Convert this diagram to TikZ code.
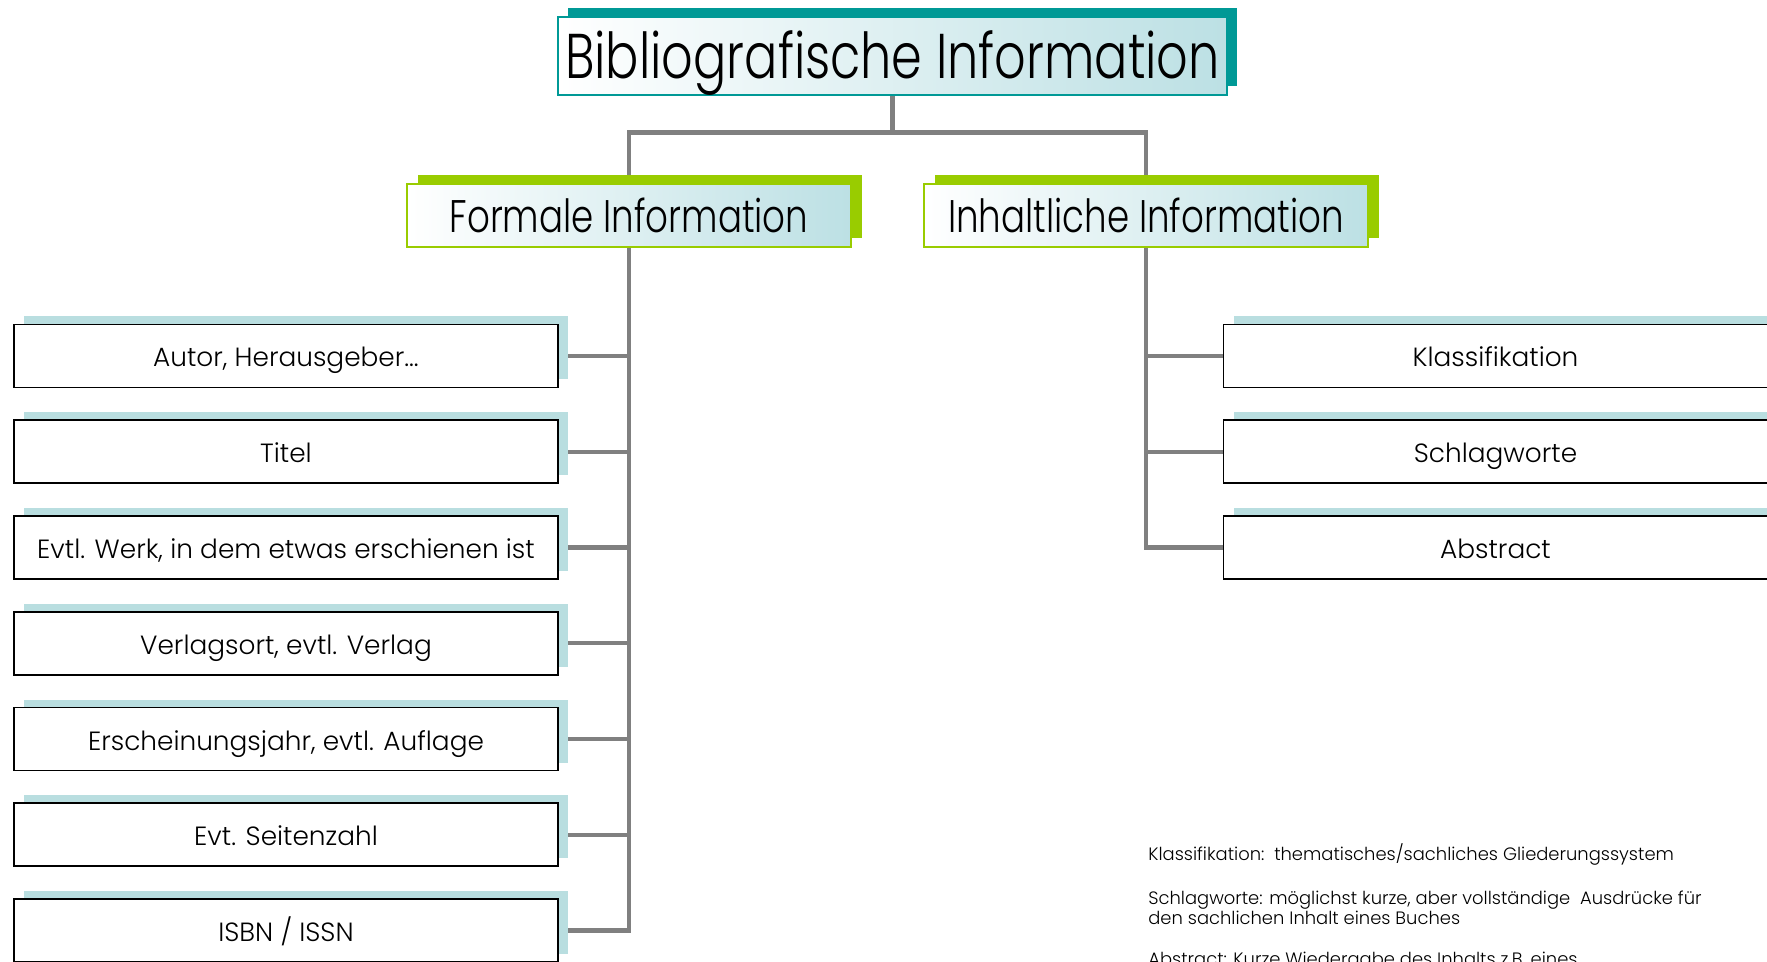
\documentclass[tikz,border=0pt]{standalone}
\usepackage{fontspec}
\IfFontExistsTF{Poppins Light}{%
  \setmainfont{Poppins Light}\newfontfamily\headfont{Poppins Light}[FakeStretch=0.78]}{%
  \setmainfont{Poppins}\newfontfamily\headfont{Poppins}[FakeStretch=0.78]}
\usetikzlibrary{shadows,backgrounds}

\definecolor{titleteal}{RGB}{0,153,150}
\definecolor{catgreen}{RGB}{153,204,0}
\definecolor{leafshade}{RGB}{185,222,224}
\definecolor{gradblue}{RGB}{188,224,228}
\definecolor{linkgray}{RGB}{128,128,128}

\tikzset{
  titlebox/.style={draw=titleteal, line width=0.8pt, left color=white, right color=gradblue,
    minimum width=13.38cm, minimum height=1.56cm, inner sep=0pt,
    text height=1.22cm, text depth=0.30cm,
    general shadow={fill=titleteal, shadow xshift=0.2cm, shadow yshift=0.17cm},
    font=\headfont\fontsize{36}{40}\selectfont},
  catbox/.style={draw=catgreen, line width=0.8pt, left color=white, right color=gradblue,
    minimum width=8.88cm, minimum height=1.26cm, inner sep=0pt,
    text height=0.95cm, text depth=0.27cm,
    general shadow={fill=catgreen, shadow xshift=0.22cm, shadow yshift=0.18cm},
    font=\headfont\fontsize{26}{30}\selectfont},
  leafbox/.style={draw=black, line width=0.9pt, fill=white,
    minimum width=10.88cm, minimum height=1.26cm, inner sep=0pt,
    text height=0.58cm, text depth=0.14cm,
    general shadow={fill=leafshade, shadow xshift=0.2cm, shadow yshift=0.16cm},
    font=\fontsize{15}{18}\selectfont},
  link/.style={draw=linkgray, line width=2.5pt},
  note/.style={anchor=base west, inner sep=0pt, font=\fontsize{10.2}{12}\selectfont}
}

\begin{document}
\begin{tikzpicture}
  \useasboundingbox (0,0) rectangle (35.34,19.22);

  \node[titlebox] (bib) at (17.85,18.10) {Bibliografische Information};

  \node[catbox] (formal) at (12.58,14.91) {Formale Information};
  \node[catbox] (content) at (22.92,14.91) {Inhaltliche Information};

  % formale Angaben
  \foreach \y/\name/\txt in {12.10/autor/{Autor, Herausgeber...},
      10.185/titel/Titel,
      8.27/werk/{Evtl. Werk, in dem etwas erschienen ist},
      6.355/ort/{Verlagsort, evtl. Verlag},
      4.44/jahr/{Erscheinungsjahr, evtl. Auflage},
      2.525/seiten/Evt. Seitenzahl,
      0.61/isbn/{ISBN / ISSN}}
    \node[leafbox] (\name) at (5.72,\y) {\txt};

  % inhaltliche Angaben
  \foreach \y/\name/\txt in {12.10/klass/Klassifikation,
      10.185/schlag/Schlagworte,
      8.27/abstr/Abstract}
    \node[leafbox] (\name) at (29.91,\y) {\txt};

  \begin{scope}[on background layer]
    \draw[link] (bib.south) -- ++(0,-0.74) coordinate (fork);
    \draw[link] (formal.north) |- (fork) -| (content.north);
    \foreach \name in {autor,titel,werk,ort,jahr,seiten,isbn}
      \draw[link] (\name.east) -| (formal.south);
    \foreach \name in {klass,schlag,abstr}
      \draw[link] (\name.west) -| (content.south);
  \end{scope}

  % Erlaeuterungen
  \node[note] (klassnote) at (22.96,2.02) {Klassifikation:\ \ thematisches/sachliches Gliederungssystem};
  \node[note] (schlagnote) at (22.96,1.14) {Schlagworte: möglichst kurze, aber vollständige\ \ Ausdrücke für};
  \node[note] (schlagnote2) at (22.96,0.74) {den sachlichen Inhalt eines Buches};
  \node[note] (abstrnote) at (22.96,-0.08) {Abstract: Kurze Wiedergabe des Inhalts z.B. eines};
\end{tikzpicture}
\end{document}
